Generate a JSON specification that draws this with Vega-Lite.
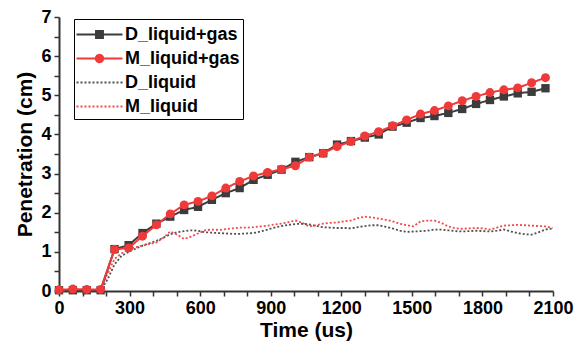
{
  "$schema": "https://vega.github.io/schema/vega-lite/v6.json",
  "width": 494,
  "height": 274,
  "autosize": {"type": "none"},
  "padding": {"left": 59, "top": 17, "right": 29, "bottom": 63},
  "background": "white",
  "data": {"values": [
    {"t":0,"D_liquid+gas":0.02,"M_liquid+gas":0.03,"D_liquid":0,"M_liquid":0.02},
    {"t":30,"D_liquid":0,"M_liquid":0.02},
    {"t":59,"D_liquid+gas":0.02,"M_liquid+gas":0.05,"D_liquid":0.01,"M_liquid":0.03},
    {"t":89,"D_liquid":0.01,"M_liquid":0.02},
    {"t":118,"D_liquid+gas":0.02,"M_liquid+gas":0.04,"D_liquid":0.01,"M_liquid":0.02},
    {"t":148,"D_liquid":0.01,"M_liquid":0.02},
    {"t":177,"D_liquid+gas":0.02,"M_liquid+gas":0.04,"D_liquid":0.02,"M_liquid":0.04},
    {"t":207,"D_liquid":0.3,"M_liquid":0.45},
    {"t":236,"D_liquid+gas":1.07,"M_liquid+gas":1.06,"D_liquid":0.68,"M_liquid":0.82},
    {"t":266,"D_liquid":0.9,"M_liquid":0.96},
    {"t":296,"D_liquid+gas":1.17,"M_liquid+gas":1.1,"D_liquid":1.0,"M_liquid":1.06},
    {"t":325,"D_liquid":1.08,"M_liquid":1.12},
    {"t":355,"D_liquid+gas":1.48,"M_liquid+gas":1.4,"D_liquid":1.16,"M_liquid":1.16},
    {"t":384,"D_liquid":1.22,"M_liquid":1.2},
    {"t":414,"D_liquid+gas":1.72,"M_liquid+gas":1.69,"D_liquid":1.28,"M_liquid":1.24},
    {"t":443,"D_liquid":1.36,"M_liquid":1.36},
    {"t":473,"D_liquid+gas":1.9,"M_liquid+gas":1.97,"D_liquid":1.45,"M_liquid":1.52},
    {"t":502,"D_liquid":1.5,"M_liquid":1.44},
    {"t":532,"D_liquid+gas":2.07,"M_liquid+gas":2.2,"D_liquid":1.53,"M_liquid":1.33},
    {"t":561,"D_liquid":1.55,"M_liquid":1.39},
    {"t":591,"D_liquid+gas":2.15,"M_liquid+gas":2.29,"D_liquid":1.54,"M_liquid":1.47},
    {"t":621,"D_liquid":1.5,"M_liquid":1.55},
    {"t":650,"D_liquid+gas":2.33,"M_liquid+gas":2.43,"D_liquid":1.49,"M_liquid":1.57},
    {"t":680,"D_liquid":1.48,"M_liquid":1.56},
    {"t":709,"D_liquid+gas":2.5,"M_liquid+gas":2.63,"D_liquid":1.47,"M_liquid":1.58},
    {"t":739,"D_liquid":1.46,"M_liquid":1.6},
    {"t":768,"D_liquid+gas":2.63,"M_liquid+gas":2.8,"D_liquid":1.46,"M_liquid":1.62},
    {"t":798,"D_liquid":1.47,"M_liquid":1.62},
    {"t":827,"D_liquid+gas":2.84,"M_liquid+gas":2.94,"D_liquid":1.48,"M_liquid":1.63},
    {"t":857,"D_liquid":1.52,"M_liquid":1.65},
    {"t":887,"D_liquid+gas":2.97,"M_liquid+gas":3.03,"D_liquid":1.57,"M_liquid":1.67},
    {"t":916,"D_liquid":1.62,"M_liquid":1.7},
    {"t":946,"D_liquid+gas":3.1,"M_liquid+gas":3.11,"D_liquid":1.66,"M_liquid":1.72},
    {"t":975,"D_liquid":1.69,"M_liquid":1.76},
    {"t":1005,"D_liquid+gas":3.3,"M_liquid+gas":3.2,"D_liquid":1.71,"M_liquid":1.8},
    {"t":1034,"D_liquid":1.72,"M_liquid":1.74},
    {"t":1064,"D_liquid+gas":3.42,"M_liquid+gas":3.42,"D_liquid":1.7,"M_liquid":1.65},
    {"t":1093,"D_liquid":1.66,"M_liquid":1.68},
    {"t":1123,"D_liquid+gas":3.52,"M_liquid+gas":3.52,"D_liquid":1.63,"M_liquid":1.72},
    {"t":1152,"D_liquid":1.62,"M_liquid":1.74},
    {"t":1182,"D_liquid+gas":3.74,"M_liquid+gas":3.69,"D_liquid":1.61,"M_liquid":1.75},
    {"t":1212,"D_liquid":1.61,"M_liquid":1.78},
    {"t":1241,"D_liquid+gas":3.83,"M_liquid+gas":3.82,"D_liquid":1.6,"M_liquid":1.8},
    {"t":1271,"D_liquid":1.63,"M_liquid":1.86},
    {"t":1300,"D_liquid+gas":3.92,"M_liquid+gas":3.96,"D_liquid":1.66,"M_liquid":1.9},
    {"t":1330,"D_liquid":1.68,"M_liquid":1.88},
    {"t":1359,"D_liquid+gas":4.0,"M_liquid+gas":4.07,"D_liquid":1.68,"M_liquid":1.85},
    {"t":1389,"D_liquid":1.64,"M_liquid":1.82},
    {"t":1418,"D_liquid+gas":4.2,"M_liquid+gas":4.22,"D_liquid":1.6,"M_liquid":1.78},
    {"t":1448,"D_liquid":1.54,"M_liquid":1.72},
    {"t":1478,"D_liquid+gas":4.3,"M_liquid+gas":4.37,"D_liquid":1.51,"M_liquid":1.68},
    {"t":1507,"D_liquid":1.52,"M_liquid":1.65},
    {"t":1537,"D_liquid+gas":4.42,"M_liquid+gas":4.52,"D_liquid":1.53,"M_liquid":1.78},
    {"t":1566,"D_liquid":1.54,"M_liquid":1.8},
    {"t":1596,"D_liquid+gas":4.47,"M_liquid+gas":4.61,"D_liquid":1.57,"M_liquid":1.8},
    {"t":1625,"D_liquid":1.57,"M_liquid":1.74},
    {"t":1655,"D_liquid+gas":4.55,"M_liquid+gas":4.73,"D_liquid":1.55,"M_liquid":1.65},
    {"t":1684,"D_liquid":1.53,"M_liquid":1.6},
    {"t":1714,"D_liquid+gas":4.65,"M_liquid+gas":4.86,"D_liquid":1.52,"M_liquid":1.59},
    {"t":1743,"D_liquid":1.53,"M_liquid":1.6},
    {"t":1773,"D_liquid+gas":4.78,"M_liquid+gas":4.97,"D_liquid":1.54,"M_liquid":1.61},
    {"t":1803,"D_liquid":1.53,"M_liquid":1.6},
    {"t":1832,"D_liquid+gas":4.88,"M_liquid+gas":5.07,"D_liquid":1.52,"M_liquid":1.57},
    {"t":1862,"D_liquid":1.54,"M_liquid":1.62},
    {"t":1891,"D_liquid+gas":4.97,"M_liquid+gas":5.14,"D_liquid":1.57,"M_liquid":1.67},
    {"t":1921,"D_liquid":1.52,"M_liquid":1.68},
    {"t":1950,"D_liquid+gas":5.05,"M_liquid+gas":5.19,"D_liquid":1.48,"M_liquid":1.69},
    {"t":1980,"D_liquid":1.45,"M_liquid":1.68},
    {"t":2009,"D_liquid+gas":5.09,"M_liquid+gas":5.32,"D_liquid":1.44,"M_liquid":1.67},
    {"t":2039,"D_liquid":1.5,"M_liquid":1.66},
    {"t":2068,"D_liquid+gas":5.18,"M_liquid+gas":5.45,"D_liquid":1.57,"M_liquid":1.65},
    {"t":2098,"D_liquid":1.6,"M_liquid":1.61}
  ]},
  "transform": [
    {"fold": ["D_liquid+gas", "M_liquid+gas", "D_liquid", "M_liquid"], "as": ["series", "v"]},
    {"filter": "isValid(datum.v)"}
  ],
  "encoding": {
    "x": {
      "field": "t", "type": "quantitative", "title": "Time (us)",
      "scale": {"domain": [0, 2100], "nice": false, "zero": false},
      "axis": {
        "values": [0,100,200,300,400,500,600,700,800,900,1000,1100,1200,1300,1400,1500,1600,1700,1800,1900,2000,2100],
        "labelExpr": "datum.value % 300 === 0 ? format(datum.value, 'd') : ''",
        "labelFlush": false, "labelOverlap": false, "titlePadding": 2
      }
    },
    "y": {
      "field": "v", "type": "quantitative", "title": "Penetration (cm)",
      "scale": {"domain": [0, 7], "nice": false},
      "axis": {
        "values": [0,0.5,1,1.5,2,2.5,3,3.5,4,4.5,5,5.5,6,6.5,7],
        "labelExpr": "datum.value % 1 === 0 ? format(datum.value, 'd') : ''",
        "labelFlush": false, "labelOverlap": false, "titlePadding": 5
      }
    }
  },
  "layer": [
    {
      "transform": [{"filter": "datum.series === 'D_liquid' || datum.series === 'M_liquid'"}],
      "mark": {"type": "line", "strokeWidth": 1.8},
      "encoding": {
        "stroke": {"field": "series", "type": "nominal",
          "scale": {"domain": ["D_liquid+gas", "M_liquid+gas", "D_liquid", "M_liquid"], "range": ["#3c3c3c", "#f03a3a", "#505050", "#f24a4a"]},
          "legend": {"title": null, "orient": "none", "legendX": 15, "legendY": 2}},
        "strokeDash": {"field": "series", "type": "nominal",
          "scale": {"domain": ["D_liquid+gas", "M_liquid+gas", "D_liquid", "M_liquid"], "range": [[1, 0], [1, 0], [2, 2], [2, 2]]},
          "legend": {"title": null, "orient": "none", "legendX": 15, "legendY": 2}}
      }
    },
    {
      "transform": [{"filter": "datum.series === 'D_liquid+gas'"}],
      "mark": {"type": "line", "strokeWidth": 2},
      "encoding": {
        "stroke": {"field": "series", "type": "nominal", "legend": {"title": null, "orient": "none", "legendX": 15, "legendY": 2}},
        "strokeDash": {"field": "series", "type": "nominal", "legend": {"title": null, "orient": "none", "legendX": 15, "legendY": 2}}
      }
    },
    {
      "transform": [{"filter": "datum.series === 'D_liquid+gas'"}],
      "mark": {"type": "point", "shape": "square", "filled": true, "size": 70, "opacity": 1, "color": "#3c3c3c"}
    },
    {
      "transform": [{"filter": "datum.series === 'M_liquid+gas'"}],
      "mark": {"type": "line", "strokeWidth": 2},
      "encoding": {
        "stroke": {"field": "series", "type": "nominal", "legend": {"title": null, "orient": "none", "legendX": 15, "legendY": 2}},
        "strokeDash": {"field": "series", "type": "nominal", "legend": {"title": null, "orient": "none", "legendX": 15, "legendY": 2}}
      }
    },
    {
      "transform": [{"filter": "datum.series === 'M_liquid+gas'"}],
      "mark": {"type": "point", "shape": "circle", "filled": true, "size": 80, "opacity": 1, "color": "#f03a3a"}
    },
    {
      "transform": [{"filter": "false"}],
      "mark": {"type": "point", "filled": true, "opacity": 1},
      "encoding": {
        "stroke": {"field": "series", "type": "nominal", "legend": {"title": null, "orient": "none", "legendX": 15, "legendY": 2}},
        "strokeDash": {"field": "series", "type": "nominal", "legend": {"title": null, "orient": "none", "legendX": 15, "legendY": 2}},
        "fill": {"field": "series", "type": "nominal",
          "scale": {"domain": ["D_liquid+gas", "M_liquid+gas", "D_liquid", "M_liquid"], "range": ["#3c3c3c", "#f03a3a", "#505050", "#f24a4a"]},
          "legend": {"title": null, "orient": "none", "legendX": 15, "legendY": 2}},
        "shape": {"field": "series", "type": "nominal",
          "scale": {"domain": ["D_liquid+gas", "M_liquid+gas", "D_liquid", "M_liquid"], "range": [
            "M-2,0H2M-0.3,-0.3H0.3V0.3H-0.3Z",
            "M-2,0H2M-0.32,0A0.32,0.32,0,1,1,0.32,0A0.32,0.32,0,1,1,-0.32,0Z",
            "M-2,0H2",
            "M-2,0H2"
          ]},
          "legend": {"title": null, "orient": "none", "legendX": 15, "legendY": 2}}
      }
    }
  ],
  "config": {
    "view": {"stroke": null},
    "axis": {
      "grid": false,
      "domainColor": "#333333", "domainWidth": 2,
      "tickColor": "#333333", "tickWidth": 1.5, "tickSize": 5,
      "labelFont": "Liberation Sans", "labelFontSize": 18, "labelFontWeight": "bold", "labelColor": "#000000", "labelPadding": 3,
      "titleFont": "Liberation Sans", "titleFontSize": 21, "titleFontWeight": "bold", "titleColor": "#000000"
    },
    "legend": {
      "padding": 3, "rowPadding": 2, "symbolSize": 529, "symbolStrokeWidth": 2, "symbolOffset": 10,
      "labelOffset": 13, "labelFont": "Liberation Sans", "labelFontSize": 18, "labelFontWeight": "bold",
      "labelColor": "#000000", "labelLimit": 0, "strokeColor": "#000000", "fillColor": "white"
    }
  }
}
